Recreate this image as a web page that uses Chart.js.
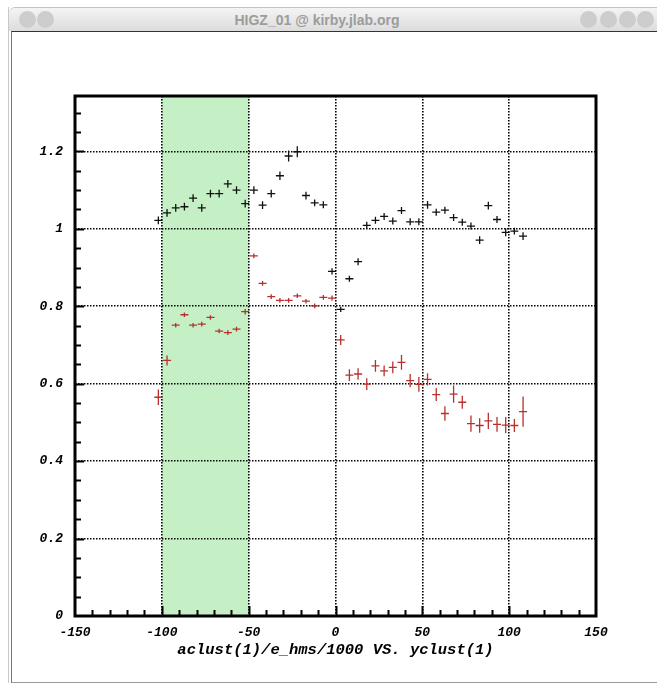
<!DOCTYPE html>
<html>
<head>
<meta charset="utf-8">
<title>HIGZ_01</title>
<script src="https://cdn.jsdelivr.net/npm/chart.js@4.4.1/dist/chart.umd.min.js"></script>
<style>
  html, body { margin: 0; padding: 0; background: #fff; }
  body { width: 657px; height: 683px; overflow: hidden; position: relative; }
  #win { position: absolute; left: 8px; top: 7px; width: 700px; height: 690px; border-left: 1px solid #c8c8c8; }
  #bar { position: absolute; left: 0; top: 0; width: 700px; height: 23px;
         background: linear-gradient(#f4f4f4, #dcdcdc); border-top: 1px solid #c4c4c4;
         border-top-left-radius: 6px; }
  #ttl { position: absolute; left: 0; width: 616px; top: 4px; text-align: center;
         font: bold 14px "Liberation Sans", sans-serif; color: #9c9c9c; }
  .dot { position: absolute; top: 3px; width: 17px; height: 17px; border-radius: 50%; background: #cdcdcd; }
  #pane { position: absolute; left: 2px; top: 24px; width: 700px; height: 650px;
          border-top: 1px solid #333; border-left: 1px solid #777; border-bottom: 1px solid #999; background: #fff; }
  #c { position: absolute; left: 0; top: 0; }
</style>
</head>
<body>
<div id="win">
  <div id="bar">
    <div class="dot" style="left:10px"></div>
    <div class="dot" style="left:28px"></div>
    <div id="ttl">HIGZ_01 @ kirby.jlab.org</div>
    <div class="dot" style="left:571px"></div>
    <div class="dot" style="left:591px"></div>
    <div class="dot" style="left:610px"></div>
    <div class="dot" style="left:628px"></div>
  </div>
  <div id="pane"></div>
</div>
<canvas id="c" width="657" height="683"></canvas>
<script>
// bin centres (same for both histograms)
const xBins = [-102, -97, -92, -87, -82, -77, -72, -67, -62, -57, -52, -47, -42, -37, -32, -27, -22,
  -17, -12, -7, -2, 3, 8, 13, 18, 23, 28, 33, 38, 43, 48, 53, 58, 63, 68, 73, 78, 83, 88, 93, 98, 103, 108];
const halfBin = 2.3;

// black points
const blackY = [1.022, 1.041, 1.054, 1.057, 1.079, 1.054, 1.091, 1.091, 1.116, 1.100, 1.065, 1.100,
  1.061, 1.091, 1.137, 1.188, 1.199, 1.086, 1.067, 1.062, 0.890, 0.792, 0.871, 0.915, 1.009, 1.022,
  1.032, 1.020, 1.047, 1.018, 1.018, 1.062, 1.043, 1.048, 1.029, 1.017, 1.007, 0.971, 1.060, 1.024,
  0.991, 0.994, 0.981];
const blackErr = [0.010, 0.010, 0.010, 0.010, 0.010, 0.010, 0.010, 0.010, 0.010, 0.010, 0.010, 0.010,
  0.010, 0.010, 0.011, 0.014, 0.014, 0.010, 0.009, 0.009, 0.008, 0.007, 0.008, 0.009, 0.009, 0.009,
  0.009, 0.009, 0.009, 0.009, 0.009, 0.010, 0.009, 0.009, 0.009, 0.009, 0.009, 0.010, 0.010, 0.009,
  0.010, 0.009, 0.010];

// red points
const redY = [0.565, 0.660, 0.751, 0.778, 0.751, 0.754, 0.771, 0.736, 0.732, 0.741, 0.786, 0.930,
  0.859, 0.825, 0.815, 0.815, 0.827, 0.813, 0.801, 0.823, 0.821, 0.713, 0.622, 0.625, 0.599, 0.646,
  0.633, 0.642, 0.655, 0.608, 0.598, 0.611, 0.572, 0.523, 0.573, 0.552, 0.497, 0.492, 0.504, 0.495,
  0.493, 0.492, 0.528];
const redErr = [0.020, 0.013, 0.006, 0.006, 0.006, 0.006, 0.006, 0.006, 0.006, 0.006, 0.007, 0.006,
  0.006, 0.006, 0.006, 0.006, 0.006, 0.006, 0.006, 0.006, 0.007, 0.013, 0.015, 0.015, 0.015, 0.015,
  0.014, 0.015, 0.019, 0.017, 0.019, 0.016, 0.017, 0.019, 0.022, 0.017, 0.021, 0.019, 0.021, 0.019,
  0.021, 0.017, 0.039];

// shaded cut window
const cutLow = -100, cutHigh = -50;

const mono = '"Liberation Mono", "DejaVu Sans Mono", monospace';

function pts(ys, errs) {
  return xBins.map((x, i) => ({ x: x, y: ys[i], ey: errs[i] }));
}

const higzPlugin = {
  id: 'higz',
  beforeDraw(chart) {
    const { ctx, chartArea: a, scales: { x } } = chart;
    ctx.save();
    ctx.fillStyle = '#c5f0c5';
    const l = x.getPixelForValue(cutLow), r = x.getPixelForValue(cutHigh);
    ctx.fillRect(l, a.top, r - l, a.bottom - a.top);
    ctx.restore();
  },
  afterDatasetsDraw(chart) {
    const { ctx, scales: { x, y } } = chart;
    ctx.save();
    ctx.lineWidth = 1.3;
    chart.data.datasets.forEach((ds, di) => {
      const meta = chart.getDatasetMeta(di);
      ctx.strokeStyle = ds.borderColor;
      ds.data.forEach((d, i) => {
        const el = meta.data[i];
        const x1 = x.getPixelForValue(d.x - halfBin), x2 = x.getPixelForValue(d.x + halfBin);
        const y1 = y.getPixelForValue(d.y - d.ey), y2 = y.getPixelForValue(d.y + d.ey);
        ctx.beginPath();
        ctx.moveTo(x1, el.y); ctx.lineTo(x2, el.y);
        ctx.moveTo(el.x, y1); ctx.lineTo(el.x, y2);
        ctx.stroke();
      });
    });
    ctx.restore();
  },
  afterDraw(chart) {
    const { ctx, chartArea: a, scales: { x, y } } = chart;
    ctx.save();
    ctx.strokeStyle = '#000';
    ctx.lineWidth = 2;
    ctx.beginPath();
    x.ticks.forEach(t => {
      if (t.value <= -150 || t.value >= 150) return;
      const px = Math.round(x.getPixelForValue(t.value)) + 0.5;
      const len = t.value % 50 === 0 ? 10 : 6;
      ctx.moveTo(px, a.bottom); ctx.lineTo(px, a.bottom - len);
    });
    y.ticks.forEach(t => {
      const k = Math.round(t.value * 100);
      if (k <= 0 || k % 5 !== 0) return;
      const py = Math.round(y.getPixelForValue(t.value)) + 0.5;
      const len = k % 20 === 0 ? 9 : 6;
      ctx.moveTo(a.left, py); ctx.lineTo(a.left + len, py);
    });
    ctx.stroke();
    ctx.lineWidth = 3;
    ctx.strokeRect(a.left, a.top, a.right - a.left, a.bottom - a.top);
    ctx.restore();
  }
};

new Chart(document.getElementById('c'), {
  type: 'scatter',
  data: {
    datasets: [
      { label: 'black', data: pts(blackY, blackErr), borderColor: '#111', pointRadius: 0 },
      { label: 'red', data: pts(redY, redErr), borderColor: '#b8302e', pointRadius: 0 }
    ]
  },
  plugins: [higzPlugin],
  options: {
    responsive: false,
    animation: false,
    layout: { padding: { left: 0, right: 61, top: 96, bottom: 24 } },
    plugins: { legend: { display: false }, tooltip: { enabled: false } },
    scales: {
      x: {
        type: 'linear', min: -150, max: 150,
        afterFit(s) { s.height = 43; },
        border: { display: false, dash: [1.5, 1.5] },
        grid: {
          drawTicks: false, lineWidth: 1.6,
          color: c => (c.tick && c.tick.value % 50 === 0 && Math.abs(c.tick.value) < 150) ? '#000' : 'rgba(0,0,0,0)'
        },
        ticks: {
          stepSize: 10, autoSkip: false, maxRotation: 0, padding: 9, color: '#000',
          font: { family: mono, size: 13, weight: 'bold', style: 'italic' },
          callback: v => (v % 50 === 0 ? String(v) : '')
        },
        title: {
          display: true, text: 'aclust(1)/e_hms/1000 VS. yclust(1)', color: '#000', padding: 0,
          font: { family: mono, size: 15.5, weight: 'bold', style: 'italic' }
        }
      },
      y: {
        type: 'linear', min: 0, max: 1.343,
        afterFit(s) { s.width = 75; },
        border: { display: false, dash: [1.5, 1.5] },
        grid: {
          drawTicks: false, lineWidth: 1.6,
          color: c => {
            if (!c.tick) return 'rgba(0,0,0,0)';
            const k = Math.round(c.tick.value * 100);
            return (k > 0 && k % 20 === 0) ? '#000' : 'rgba(0,0,0,0)';
          }
        },
        ticks: {
          stepSize: 0.05, autoSkip: false, padding: 12, color: '#000',
          font: { family: mono, size: 13, weight: 'bold', style: 'italic' },
          callback: v => {
            const k = Math.round(v * 100);
            return k % 20 === 0 ? String(k / 100) : '';
          }
        }
      }
    }
  }
});
</script>
</body>
</html>
